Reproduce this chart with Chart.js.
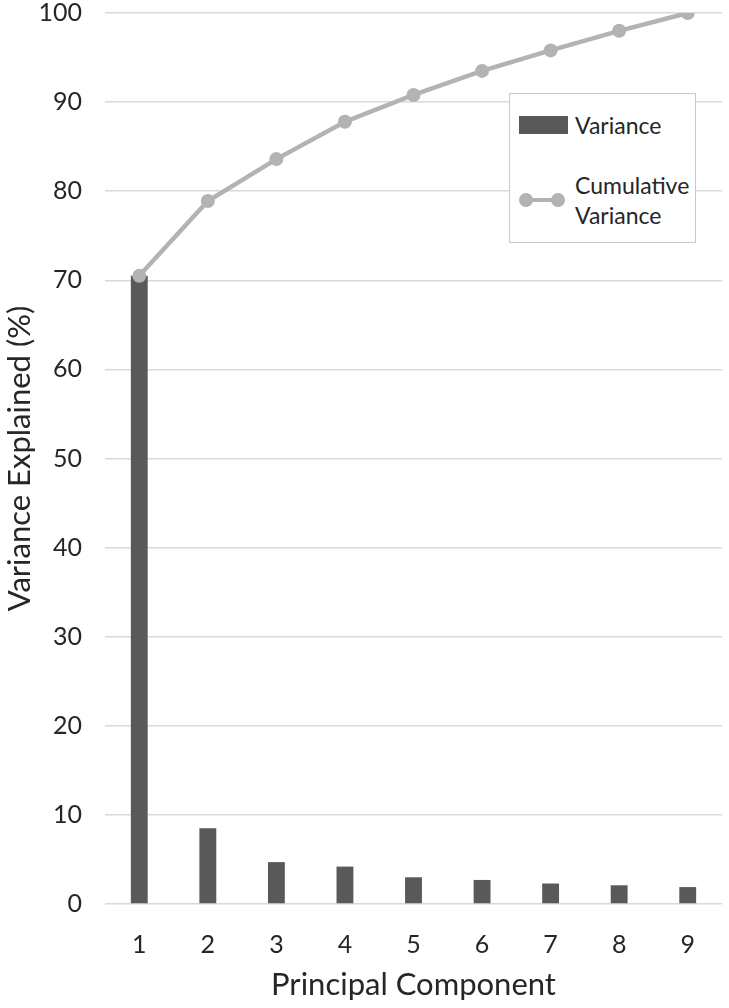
<!DOCTYPE html>
<html>
<head>
<meta charset="utf-8">
<script src="https://cdn.jsdelivr.net/npm/chart.js@4/dist/chart.umd.min.js"></script>
<style>
  html, body { margin: 0; padding: 0; background: #fff; }
  .wrap { position: relative; width: 729px; height: 1008px; }
  .legend {
    position: absolute; left: 509px; top: 93px; width: 187px; height: 150px;
    border: 1.5px solid #c8c8c8; background: #fff; box-sizing: border-box;
    font-family: Lato, "Open Sans", sans-serif; font-size: 23px; color: #262626;
  }
  .legend .item { position: absolute; left: 9px; display: flex; align-items: center; }
  .legend .swatch { width: 49px; height: 18px; background: #595959; margin-right: 7px; }
  .legend .line { position: relative; width: 46px; height: 18px; margin-right: 10px; }
  .legend .line::before { content: ''; position: absolute; left: 6px; right: 6px; top: 7px; height: 4px; background: #b3b3b3; }
  .legend .line i { position: absolute; top: 2px; width: 14px; height: 14px; border-radius: 50%; background: #b3b3b3; }
  .legend .txt { line-height: 30px; }
</style>
</head>
<body>
<div class="wrap">
  <canvas id="c" width="729" height="1008"></canvas>
  <div class="legend" id="legend"></div>
</div>
<script>
const components = ['1', '2', '3', '4', '5', '6', '7', '8', '9'];
const variance = [70.5, 8.5, 4.7, 4.2, 3.0, 2.7, 2.3, 2.1, 1.9];
const cumulative = [70.5, 78.9, 83.6, 87.8, 90.8, 93.5, 95.8, 98.0, 100];
const seriesNames = ['Variance', 'Cumulative Variance'];

const BAR = '#595959';
const LINE = '#b3b3b3';
const GRID = '#d9d9d9';
const TEXT = '#262626';
const FONT = 'Lato, "Open Sans", sans-serif';

new Chart(document.getElementById('c'), {
  type: 'bar',
  data: {
    labels: components,
    datasets: [
      {
        type: 'line',
        label: seriesNames[1],
        data: cumulative,
        borderColor: LINE,
        backgroundColor: LINE,
        borderWidth: 4.5,
        pointRadius: 7,
        pointBackgroundColor: LINE,
        pointBorderWidth: 0,
        tension: 0,
        order: 0
      },
      {
        label: seriesNames[0],
        data: variance,
        backgroundColor: BAR,
        barPercentage: 0.246,
        categoryPercentage: 1,
        order: 1
      }
    ]
  },
  options: {
    responsive: false,
    animation: false,
    layout: { padding: { top: 0, right: 3, left: 0, bottom: 0 } },
    plugins: { legend: { display: false }, tooltip: { enabled: false } },
    scales: {
      x: {
        afterFit: s => { s.height = 104; },
        grid: { display: false },
        border: { display: false },
        ticks: { color: TEXT, font: { family: FONT, size: 25 }, padding: 18 },
        title: { display: true, text: 'Principal Component', color: TEXT, font: { family: FONT, size: 31 }, padding: { top: 0, bottom: 4 } }
      },
      y: {
        min: 0, max: 100,
        afterFit: s => { s.width = 105; s.paddingTop = 13; s.paddingBottom = 0; },
        grid: { color: GRID, lineWidth: 1.5, drawTicks: false },
        border: { display: false },
        ticks: { stepSize: 10, color: TEXT, font: { family: FONT, size: 25 }, padding: 23 },
        title: { display: true, text: 'Variance Explained (%)', color: TEXT, font: { family: FONT, size: 31 }, padding: { top: 1, bottom: 0 } }
      }
    }
  }
});

// legend box drawn as html, labels taken from seriesNames
const lg = document.getElementById('legend');
lg.innerHTML =
  '<div class="item" style="top:16px"><div class="swatch"></div><span class="txt">' + seriesNames[0] + '</span></div>' +
  '<div class="item" style="top:76px"><div class="line"><i style="left:0"></i><i style="right:0"></i></div>' +
  '<span class="txt">' + seriesNames[1].replace(' ', '<br>') + '</span></div>';
</script>
</body>
</html>
